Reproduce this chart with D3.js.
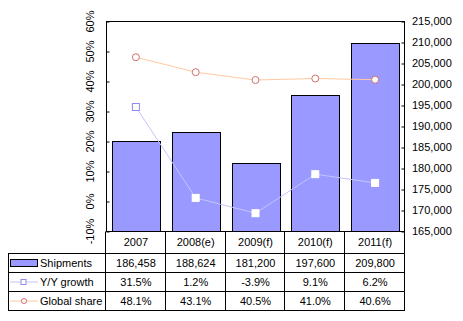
<!DOCTYPE html>
<html>
<head>
<meta charset="utf-8">
<script src="https://cdn.jsdelivr.net/npm/d3@7"></script>
<style>
  body { margin: 0; background: #fff; }
  text { font-family: Arial, "Liberation Sans", sans-serif; font-size: 11px; fill: #000; }
</style>
</head>
<body>
<div id="chart"></div>
<script>
const categories = ['2007', '2008(e)', '2009(f)', '2010(f)', '2011(f)'];
const shipments = [186458, 188624, 181200, 197600, 209800];
const growth = [31.5, 1.2, -3.9, 9.1, 6.2];
const share = [48.1, 43.1, 40.5, 41.0, 40.6];
const pctTicks = [-10, 0, 10, 20, 30, 40, 50, 60];
const unitTicks = [165000, 170000, 175000, 180000, 185000, 190000, 195000, 200000, 205000, 210000, 215000];

const WIDTH = 463, HEIGHT = 321;
const plot = { left: 106, right: 405, top: 21.5, bottom: 231.5 };
const table = { left: 8, rows: [231.5, 253.5, 272.5, 291.5, 310.5] };

const barColor = '#9999ff';
const growthLine = '#c4c4ff', growthMark = '#8c8cf0';
const shareLine = '#ffc8a0', shareMark = '#d07070';

// plain hyphen for negatives
const locale = d3.formatLocale({ decimal: '.', thousands: ',', grouping: [3], currency: ['', ''], minus: '-' });
const fmtThousands = locale.format(',');
const fmtPct = (d) => locale.format('.1f')(d) + '%';

const svg = d3.select('#chart').append('svg')
    .attr('width', WIDTH)
    .attr('height', HEIGHT);

const x = d3.scaleBand()
    .domain(categories)
    .range([plot.left, plot.right])
    .paddingInner(0.2)
    .paddingOuter(0.1);

const yPct = d3.scaleLinear().domain([-10, 60]).range([plot.bottom, plot.top]);
const yUnits = d3.scaleLinear().domain([165000, 215000]).range([plot.bottom, plot.top]);

// bars on the right-hand axis
svg.append('g')
    .selectAll('rect')
    .data(shipments)
    .join('rect')
    .attr('x', (d, i) => Math.round(x(categories[i])) + 0.5)
    .attr('y', (d) => Math.round(yUnits(d)) + 0.5)
    .attr('width', Math.round(x.bandwidth()))
    .attr('height', (d) => plot.bottom - Math.round(yUnits(d)) - 0.5)
    .attr('fill', barColor)
    .attr('stroke', '#000')
    .attr('stroke-width', 1);

// plot frame
svg.append('rect')
    .attr('x', plot.left + 0.5)
    .attr('y', plot.top)
    .attr('width', plot.right - plot.left - 1)
    .attr('height', plot.bottom - plot.top)
    .attr('fill', 'none')
    .attr('stroke', '#000');

// left axis (percent)
const leftAxis = d3.axisRight(yPct).tickValues(pctTicks).tickSize(3).tickFormat('');
svg.append('g')
    .attr('transform', `translate(${plot.left + 0.5},0)`)
    .call(leftAxis)
    .call((g) => g.select('.domain').remove())
    .call((g) => g.selectAll('line').attr('stroke', '#000'));

svg.append('g')
    .selectAll('text')
    .data(pctTicks)
    .join('text')
    .attr('transform', (d) => `translate(94,${yPct(d)}) rotate(-90)`)
    .attr('text-anchor', 'middle')
    .text((d) => d + '%');

// right axis (units)
const rightAxis = d3.axisLeft(yUnits).tickValues(unitTicks).tickSize(3).tickFormat('');
svg.append('g')
    .attr('transform', `translate(${plot.right - 0.5},0)`)
    .call(rightAxis)
    .call((g) => g.select('.domain').remove())
    .call((g) => g.selectAll('line').attr('stroke', '#000'));

svg.append('g')
    .selectAll('text')
    .data(unitTicks)
    .join('text')
    .attr('x', 412)
    .attr('y', (d) => yUnits(d))
    .attr('dy', '0.35em')
    .text((d) => fmtThousands(d));

// lines on the percent axis
const cx = (i) => x(categories[i]) + x.bandwidth() / 2;
const line = d3.line().x((d, i) => cx(i)).y((d) => yPct(d));

svg.append('path')
    .datum(share)
    .attr('d', line)
    .attr('fill', 'none')
    .attr('stroke', shareLine);

svg.append('path')
    .datum(growth)
    .attr('d', line)
    .attr('fill', 'none')
    .attr('stroke', growthLine);

svg.append('g')
    .selectAll('circle')
    .data(share)
    .join('circle')
    .attr('cx', (d, i) => cx(i))
    .attr('cy', (d) => yPct(d))
    .attr('r', 3.5)
    .attr('fill', '#fff')
    .attr('stroke', shareMark);

svg.append('g')
    .selectAll('rect')
    .data(growth)
    .join('rect')
    .attr('x', (d, i) => cx(i) - 3.5)
    .attr('y', (d) => yPct(d) - 3.5)
    .attr('width', 7)
    .attr('height', 7)
    .attr('fill', '#fff')
    .attr('stroke', (d, i) => (yPct(d) < yUnits(shipments[i]) ? growthMark : '#fff'));

// data table
const tbl = svg.append('g').attr('stroke', '#000').attr('stroke-width', 1);
table.rows.slice(1).forEach((y) => {
    tbl.append('line')
        .attr('x1', table.left).attr('x2', plot.right)
        .attr('y1', y).attr('y2', y);
});
tbl.append('line')
    .attr('x1', table.left + 0.5).attr('x2', table.left + 0.5)
    .attr('y1', table.rows[1]).attr('y2', table.rows[4]);
const colEdges = [plot.left].concat(categories.map((c) => x(c) + x.bandwidth() + x.step() * x.paddingInner() / 2));
colEdges[colEdges.length - 1] = plot.right;
colEdges.forEach((cxEdge) => {
    tbl.append('line')
        .attr('x1', Math.round(cxEdge) - 0.5).attr('x2', Math.round(cxEdge) - 0.5)
        .attr('y1', table.rows[0]).attr('y2', table.rows[4]);
});

const rowMid = (r) => (table.rows[r] + table.rows[r + 1]) / 2;
const cellText = [
    categories,
    shipments.map(fmtThousands),
    growth.map(fmtPct),
    share.map(fmtPct),
];
cellText.forEach((row, r) => {
    svg.append('g')
        .selectAll('text')
        .data(row)
        .join('text')
        .attr('x', (d, i) => cx(i))
        .attr('y', rowMid(r))
        .attr('dy', '0.35em')
        .attr('text-anchor', 'middle')
        .text((d) => d);
});

// legend keys in the table
const keyX = 10, keyW = 27;
svg.append('rect')
    .attr('x', keyX + 0.5).attr('y', rowMid(1) - 3.5)
    .attr('width', keyW).attr('height', 7)
    .attr('fill', barColor).attr('stroke', '#000');
svg.append('line')
    .attr('x1', keyX).attr('x2', keyX + keyW + 1)
    .attr('y1', rowMid(2)).attr('y2', rowMid(2))
    .attr('stroke', growthLine);
svg.append('rect')
    .attr('x', keyX + keyW / 2 - 2.5).attr('y', rowMid(2) - 2.5)
    .attr('width', 5).attr('height', 5)
    .attr('fill', '#fff').attr('stroke', growthMark);
svg.append('line')
    .attr('x1', keyX).attr('x2', keyX + keyW + 1)
    .attr('y1', rowMid(3)).attr('y2', rowMid(3))
    .attr('stroke', shareLine);
svg.append('circle')
    .attr('cx', keyX + keyW / 2 + 0.5).attr('cy', rowMid(3))
    .attr('r', 2.5)
    .attr('fill', '#fff').attr('stroke', shareMark);

const legendNames = ['Shipments', 'Y/Y growth', 'Global share'];
legendNames.forEach((name, k) => {
    svg.append('text')
        .attr('x', 40)
        .attr('y', rowMid(k + 1))
        .attr('dy', '0.35em')
        .text(name);
});
</script>
</body>
</html>
